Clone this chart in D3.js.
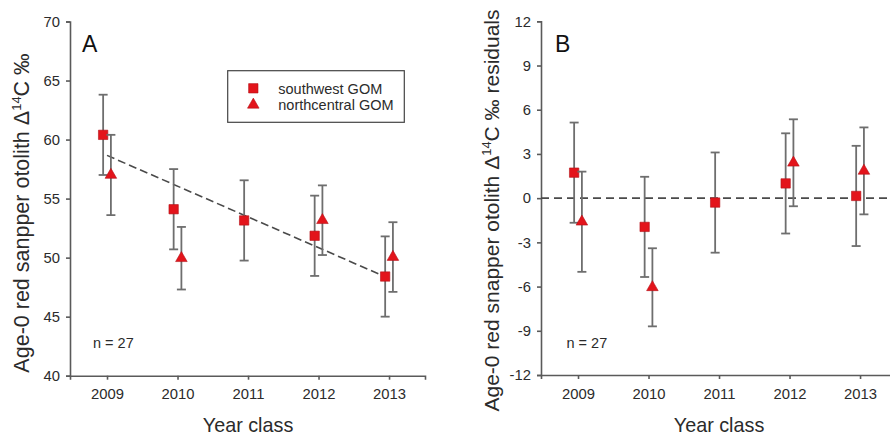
<!DOCTYPE html>
<html>
<head>
<meta charset="utf-8">
<script src="https://cdn.jsdelivr.net/npm/d3@7"></script>
<style>
  body { margin: 0; background: #fff; }
  svg { display: block; font-family: "Liberation Sans", Arial, sans-serif; }
</style>
</head>
<body>
<svg id="chart" width="890" height="435"></svg>
<script>
// ---- data ----
const years = [2009, 2010, 2011, 2012, 2013];
const swYears = [2009, 2010, 2011, 2012, 2013];
const swMean = [60.4, 54.1, 53.15, 51.85, 48.4];
const swErr = [3.4, 3.4, 3.4, 3.4, 3.4];
const ncYears = [2009, 2010, 2012, 2013];
const ncMean = [57.0, 49.95, 53.17, 50.05];
const ncErr = [3.4, 2.65, 2.95, 2.95];
const fitYears = [2009, 2013];
const fitValues = [58.66, 48.24];
const swResid = [1.73, -1.95, -0.3, 1.0, 0.15];
const ncResid = [-1.6, -6.05, 2.4, 1.85];
const yTicksA = [40, 45, 50, 55, 60, 65, 70];
const yTicksB = [-12, -9, -6, -3, 0, 3, 6, 9, 12];
const seriesNames = ["southwest GOM", "northcentral GOM"];

const svg = d3.select("#chart");
const RED = "#e3141b";
const AXIS = "#5a5a5a";
const ERR = "#6e6e6e";
const TXT = "#2b2b2b";
const OFF = 0.055;

function panel(opts) {
  const g = svg.append("g");
  const x = d3.scaleLinear().domain([2008.475, 2013.51]).range([opts.left, opts.left + 355]);
  const y = d3.scaleLinear().domain(opts.yDomain).range([opts.bottom, opts.top]);

  // axes
  const xAxis = d3.axisBottom(x).tickValues(years).tickFormat(d3.format("d")).tickSizeOuter(0).tickSize(4).tickPadding(9);
  const gx = g.append("g").attr("transform", `translate(0,${opts.bottom})`).call(xAxis);
  const yAxis = d3.axisLeft(y).tickValues(opts.yTicks).tickSizeOuter(0).tickSize(4).tickPadding(6).tickFormat(d => d < 0 ? "-" + Math.abs(d) : d);
  const gy = g.append("g").attr("transform", `translate(${opts.left},0)`).call(yAxis);
  [gx, gy].forEach(a => {
    a.select(".domain").attr("stroke", AXIS).attr("stroke-width", 1.6);
    a.selectAll(".tick line").attr("stroke", AXIS).attr("stroke-width", 1.6);
    a.selectAll(".tick text").attr("fill", TXT).style("font-size", "14.8px").style("font-family", '"Liberation Sans", Arial, sans-serif');
  });

  // axis titles
  g.append("text").attr("x", x(2011)).attr("y", 432).attr("text-anchor", "middle")
    .attr("fill", TXT).style("font-size", "19.8px").text("Year class");
  const yl = g.append("text").attr("transform", `translate(${opts.ylx},${opts.yly}) rotate(-90)`)
    .attr("text-anchor", "middle").attr("fill", TXT).style("font-size", opts.ylSize + "px");
  yl.append("tspan").text(opts.ylabel1 + " Δ");
  yl.append("tspan").attr("dy", -8).style("font-size", "13px").text("14");
  yl.append("tspan").attr("dy", 8).text("C ‰" + opts.ylabel2);

  // panel letter and n
  g.append("text").attr("x", opts.letterX).attr("y", 51.5).attr("fill", "#111").style("font-size", "23px").text(opts.letter);
  g.append("text").attr("x", opts.nX).attr("y", 348).attr("fill", TXT).style("font-size", "14.5px").text("n = 27");

  return { g, x, y };
}

function drawSeries(p, xs, ms, es, offset, type) {
  const g = p.g;
  const capW = 4.5;
  xs.forEach((yr, i) => {
    const cx = p.x(yr + offset);
    const y1 = p.y(ms[i] + es[i]), y0 = p.y(ms[i] - es[i]);
    g.append("line").attr("x1", cx).attr("x2", cx).attr("y1", y1).attr("y2", y0).attr("stroke", ERR).attr("stroke-width", 1.8);
    g.append("line").attr("x1", cx - capW).attr("x2", cx + capW).attr("y1", y1).attr("y2", y1).attr("stroke", ERR).attr("stroke-width", 1.8);
    g.append("line").attr("x1", cx - capW).attr("x2", cx + capW).attr("y1", y0).attr("y2", y0).attr("stroke", ERR).attr("stroke-width", 1.8);
  });
  const sym = type === "square" ? d3.symbol(d3.symbolSquare, 88) : d3.symbol(d3.symbolTriangle, 58);
  xs.forEach((yr, i) => {
    g.append("path").attr("d", sym()).attr("transform", `translate(${p.x(yr + offset)},${p.y(ms[i])})`)
      .attr("fill", RED).attr("stroke", "#b3121a").attr("stroke-width", 0.6);
  });
}

// ---- Panel A ----
const A = panel({ left: 70, top: 21.5, bottom: 375.7, yDomain: [40, 70], yTicks: yTicksA,
  ylabel1: "Age-0 red sanpper otolith", ylabel2: "", ylx: 29, yly: 213, ylSize: 21.5, letter: "A", letterX: 82, nX: 93 });
A.g.append("line").attr("x1", A.x(fitYears[0])).attr("x2", A.x(fitYears[1]))
  .attr("y1", A.y(fitValues[0])).attr("y2", A.y(fitValues[1]))
  .attr("stroke", "#4a4a4a").attr("stroke-width", 1.6).attr("stroke-dasharray", "8,4");
drawSeries(A, swYears, swMean, swErr, -OFF, "square");
drawSeries(A, ncYears, ncMean, ncErr, OFF, "triangle");

// legend
const lg = A.g.append("g");
lg.append("rect").attr("x", 227.7).attr("y", 70.7).attr("width", 176.6).attr("height", 51.6)
  .attr("fill", "#fff").attr("stroke", "#444").attr("stroke-width", 1.2);
lg.append("path").attr("d", d3.symbol(d3.symbolSquare, 88)()).attr("transform", "translate(253.3,88.3)")
  .attr("fill", RED).attr("stroke", "#b3121a").attr("stroke-width", 0.6);
lg.append("path").attr("d", d3.symbol(d3.symbolTriangle, 58)()).attr("transform", "translate(253.3,104.8)")
  .attr("fill", RED).attr("stroke", "#b3121a").attr("stroke-width", 0.6);
lg.append("text").attr("x", 278.3).attr("y", 93.5).attr("fill", TXT).style("font-size", "14.5px").text(seriesNames[0]);
lg.append("text").attr("x", 278.3).attr("y", 110).attr("fill", TXT).style("font-size", "14.5px").text(seriesNames[1]);

// ---- Panel B ----
const B = panel({ left: 541, top: 21.3, bottom: 375, yDomain: [-12, 12], yTicks: yTicksB,
  ylabel1: "Age-0 red snapper otolith", ylabel2: " residuals", ylx: 499, yly: 210.5, ylSize: 21, letter: "B", letterX: 555, nX: 566.5 });
B.g.append("line").attr("x1", 541).attr("x2", 896).attr("y1", B.y(0)).attr("y2", B.y(0))
  .attr("stroke", "#4a4a4a").attr("stroke-width", 1.6).attr("stroke-dasharray", "8,5");
drawSeries(B, swYears, swResid, swErr, -OFF, "square");
drawSeries(B, ncYears, ncResid, ncErr, OFF, "triangle");
</script>
</body>
</html>
